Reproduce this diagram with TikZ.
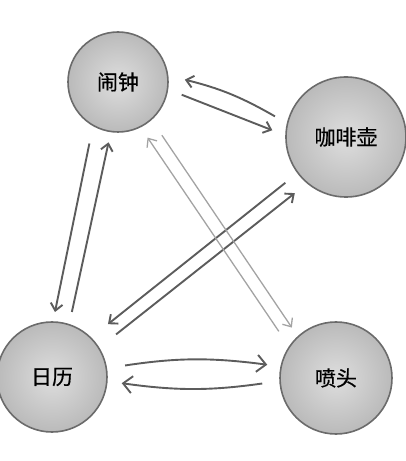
\documentclass[tikz,border=0pt]{standalone}
\usepackage{fontspec}
\usepackage{tikz}
\usetikzlibrary{arrows.meta}
\newfontfamily\cjk[FakeBold=0.6]{Noto Sans CJK SC}

\begin{document}
\begin{tikzpicture}[x=1pt,y=1pt,node distance=295pt,
	device/.style={circle, draw=black!58, line width=1.6pt, inner color=black!13, outer color=black!27, outer sep=13pt, font=\cjk\fontsize{21}{21}\selectfont},
	link/.style={-{Straight Barb[length=7pt,width=12pt]}, line width=1.9pt, draw=black!64},
	faint/.style={link, draw=black!36, line width=1.3pt},
	wide/.style={-{Straight Barb[length=9pt,width=17pt]}}]
			\useasboundingbox (0,0) rectangle (406,461);
			% Nodes
			\node[device, minimum size=100pt] (clock) at (118,379) {闹钟};
			\node[device, minimum size=110pt] (calendar) [below of=clock, xshift=-66pt] {日历};
			\node[device, minimum size=112pt] (sprinkler) [right of=calendar, xshift=-11pt, yshift=-1pt] {喷头};
			\node[device, minimum size=120pt] (coffee) [above of=sprinkler, xshift=10pt, yshift=-54pt] {咖啡壶};
			
			% Connectors
			\path
			(coffee.164) edge [link, bend right=8, shorten <=1pt, shorten >=4pt] (clock.3)
			(clock.-11) edge [link, shorten <=2pt, shorten >=1pt] (coffee.175)
			
			(calendar.73) edge [link, shorten >=-2pt] (clock.-99)
			(clock.244) edge [link, shorten <=5pt, shorten >=-3pt] (calendar.87)
			
			(coffee.217) edge [link, shorten <=3pt, shorten >=9pt] (calendar.44)
			(calendar.33) edge [link, shorten <=9pt, shorten >=3pt] (coffee.228)
			
			(sprinkler.142) edge [faint, shorten <=5pt] (clock.-62)
			(clock.-50) edge [faint, shorten <=6pt, shorten >=-2pt] (sprinkler.131)
			
			(calendar.9) edge [link, wide, bend left=8, shorten <=6pt, shorten >=1pt] (sprinkler.169)
			(sprinkler.184) edge [link, wide, bend left=8, shorten <=5pt, shorten >=2pt] (calendar.-5);
			
		\end{tikzpicture}
\end{document}
